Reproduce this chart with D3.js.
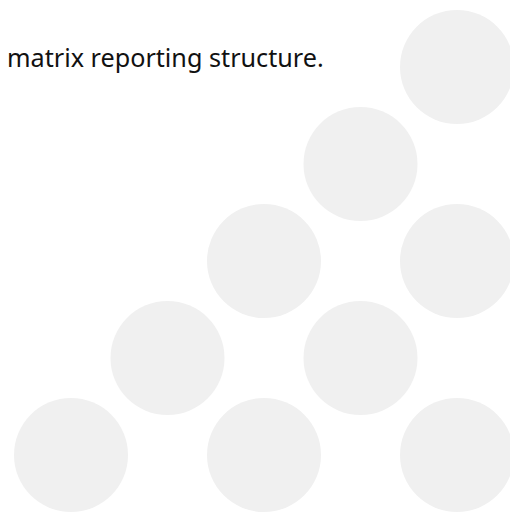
<!DOCTYPE html>
<html>
<head>
<meta charset="utf-8">
<script src="https://cdn.jsdelivr.net/npm/d3@7"></script>
<style>
  html, body { margin: 0; padding: 0; background: #fff; }
  svg { display: block; }
</style>
</head>
<body>
<svg id="chart" width="510" height="517"></svg>
<script>
const caption = 'matrix reporting structure.';

// grid cell of each dot
const dotCols = [4, 3, 2, 4, 1, 3, 0, 2, 4];
const dotRows = [0, 1, 2, 2, 3, 3, 4, 4, 4];

const width = 510, height = 517;
const svg = d3.select('#chart');

const x = d3.scaleLinear().domain([0, 4]).range([71, 457]);
const y = d3.scaleLinear().domain([0, 4]).range([67, 455]);

const dots = dotCols.map((c, i) => ({ col: c, row: dotRows[i] }));

svg.selectAll('circle')
  .data(dots)
  .join('circle')
  .attr('cx', d => x(d.col))
  .attr('cy', d => y(d.row))
  .attr('r', 57)
  .attr('fill', '#f0f0f0');

svg.append('text')
  .attr('x', 7)
  .attr('y', 67)
  .attr('font-family', 'Noto Sans, sans-serif')
  .attr('font-size', 25.2)
  .attr('fill', '#111')
  .text(caption);
</script>
</body>
</html>
